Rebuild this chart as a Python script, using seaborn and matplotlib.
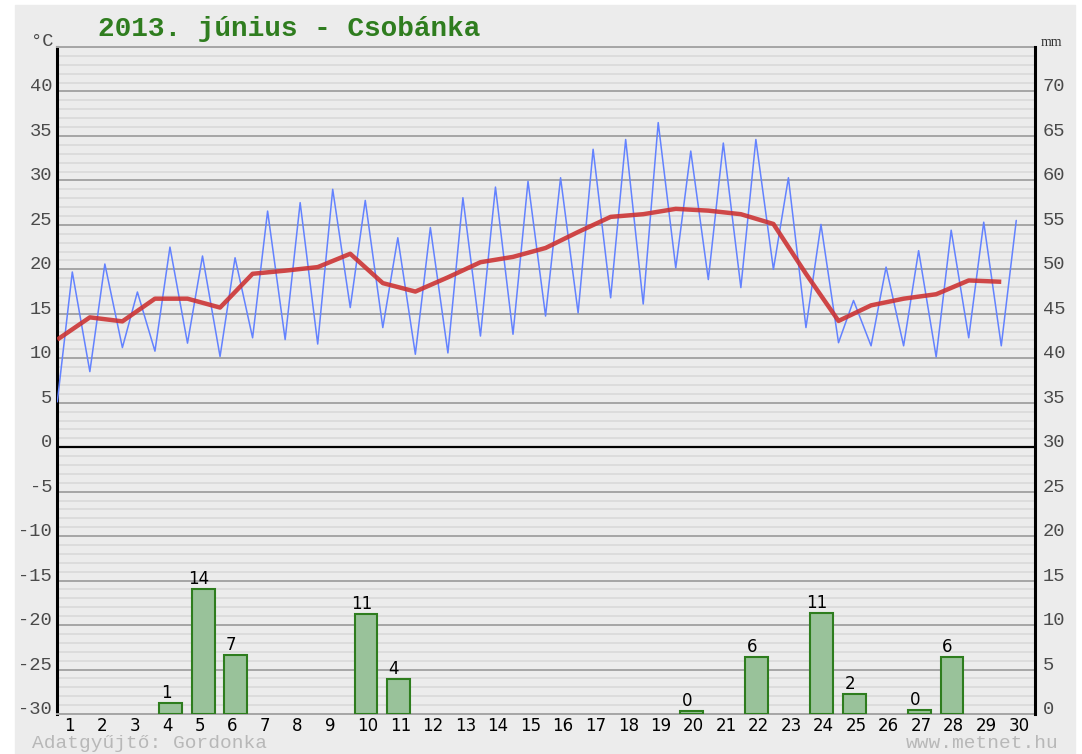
#!/usr/bin/env python3

import numpy as np
import pandas as pd
import matplotlib
matplotlib.use("Agg")
import matplotlib.pyplot as plt
from matplotlib.patches import Rectangle
import seaborn as sns

sns.set_style("white")
plt.rcParams['font.family'] = ['DejaVu Sans']

# Data
TITLE = "2013. június - Csobánka"
days = list(range(1, 31))
t_min = [5.1, 8.5, 11.2, 10.8, 11.7, 10.2, 12.3, 12.1, 11.6, 15.7,
         13.45, 10.45, 10.6, 12.5, 12.7, 14.75, 15.1, 16.8, 16.1, 20.15,
         18.85, 17.95, 20.0, 13.45, 11.75, 11.4, 11.4, 10.15, 12.3, 11.4]
t_max = [19.7, 20.6, 17.45, 22.5, 21.5, 21.3, 26.55, 27.5, 29.0, 27.75,
         23.55, 24.7, 28.05, 29.25, 29.9, 30.3, 33.5, 34.6, 36.5, 33.3,
         34.2, 34.6, 30.3, 25.05, 16.5, 20.25, 22.1, 24.4, 25.3, 25.5]
t_mean = [12.1, 14.6, 14.15, 16.7, 16.7, 15.7, 19.5, 19.85, 20.25, 21.75,
          18.45, 17.5, 19.1, 20.8, 21.4, 22.4, 24.2, 25.9, 26.2, 26.8,
          26.6, 26.2, 25.1, 19.5, 14.2, 15.95, 16.7, 17.2, 18.75, 18.6]
rain_days = [4, 5, 6, 10, 11, 20, 22, 24, 25, 27, 28]
rain_mm = [1.2, 14.0, 6.6, 11.3, 3.9, 0.3, 6.45, 11.4, 2.3, 0.4, 6.45]

# time-of-day offsets within a day column
MIN_OFF = -0.215
MAX_OFF = 0.246
BAR_OFF = 0.27
LABEL_OFF = 0.125

W, H = 1082, 754
BG = '#ececec'
MONO = 'Liberation Mono'
LABEL_GREY = '#4a4a4a'

# min/max zigzag
temp = pd.DataFrame({
    'x': np.ravel(np.column_stack([np.array(days) + MIN_OFF, np.array(days) + MAX_OFF])),
    't': np.ravel(np.column_stack([t_min, t_max])),
})
mean = pd.DataFrame({'x': np.array(days) + MIN_OFF, 't': t_mean})
rain = pd.DataFrame({'x': np.array(rain_days) + BAR_OFF, 'mm': rain_mm})

fig = plt.figure(figsize=(W / 100, H / 100), dpi=100)
fig.patch.set_facecolor('white')
fig.patches.append(Rectangle((15 / W, 0), (1075 - 15) / W, 1 - 5 / H,
                             transform=fig.transFigure, color=BG, zorder=-10))

ax = fig.add_axes([57 / W, 40 / H, (1034.5 - 57) / W, (714 - 47) / H])
ax.set_facecolor(BG)
ax2 = ax.twinx()

# grid
ax.set_ylim(-30, 45)
ax.set_yticks(range(-30, 46, 5))
ax.set_yticklabels([str(v) if v < 45 else '' for v in range(-30, 46, 5)],
                   family=MONO, fontsize=13.5, color=LABEL_GREY, va='baseline')
ax.set_yticks(range(-30, 46), minor=True)
ax.grid(True, which='minor', axis='y', color='#d9d9d9', lw=1.2)
ax.grid(True, which='major', axis='y', color='#a6a6a6', lw=1.4)
ax.set_axisbelow(True)
ax.axhline(0, color='black', lw=1.6, zorder=2)

sns.lineplot(data=temp, x='x', y='t', ax=ax, color='#6382ff', linewidth=1.1,
             sort=False, zorder=3)
sns.lineplot(data=mean, x='x', y='t', ax=ax, color='#cc3030', linewidth=3.2,
             sort=False, alpha=0.88, zorder=4, solid_capstyle='butt')

sns.barplot(data=rain, x='x', y='mm', ax=ax2, native_scale=True, width=0.7,
            color='#99c29a', saturation=1, edgecolor='#2e7d1e', linewidth=1.5,
            errorbar=None)
for d, v in zip(rain['x'], rain['mm']):
    ax2.annotate(f"{round(v)}", (d - BAR_OFF + LABEL_OFF, v), xytext=(0, 3.6),
                 textcoords='offset points', ha='center', va='baseline',
                 fontsize=12, color='black')

ax2.set_ylim(0, 75)
ax2.set_yticks(range(0, 71, 5))
ax2.set_yticklabels([str(v) for v in range(0, 71, 5)], family=MONO,
                    fontsize=13.5, color=LABEL_GREY, va='baseline')

ax.set_xlim(0.776, 30.806)
ax.set_xticks(days)
ax.set_xticklabels([str(d) for d in days], ha='left', fontsize=12, color='black')

ax.tick_params(axis='both', which='both', length=0)
ax.tick_params(axis='y', pad=3.5)
ax.tick_params(axis='x', pad=2)
ax2.tick_params(axis='both', which='both', length=0)
ax2.tick_params(axis='y', pad=6)
for a in (ax, ax2):
    a.set_xlabel('')
    a.set_ylabel('')

ax.spines['left'].set(color='black', linewidth=2.2)
ax.spines['right'].set_visible(False)
for s in ('top', 'bottom'):
    ax.spines[s].set(color='#a6a6a6', linewidth=1.4)
for s in ('top', 'bottom', 'left'):
    ax2.spines[s].set_visible(False)
ax2.spines['right'].set(color='black', linewidth=2.2)

# texts around the frame
fig.text(98 / W, 1 - 35.7 / H, TITLE, family=MONO, weight='bold', fontsize=20,
         color='#2f7d1f', va='baseline')
fig.text(31 / W, 1 - 46 / H, '°C', family=MONO, fontsize=13.5, color=LABEL_GREY,
         va='baseline')
fig.text(1041 / W, 1 - 46.5 / H, 'mm', family='Liberation Serif', fontsize=10,
         color='#333333', va='baseline')
fig.text(31.7 / W, 1 - 748 / H, 'Adatgyűjtő: Gordonka', family=MONO, fontsize=14,
         color='#b8b8b8', va='baseline')
fig.text(1059 / W, 1 - 748 / H, 'www.metnet.hu', family=MONO, fontsize=14,
         color='#b8b8b8', va='baseline', ha='right')

fig.savefig('out.png', dpi=100, facecolor=fig.get_facecolor())
